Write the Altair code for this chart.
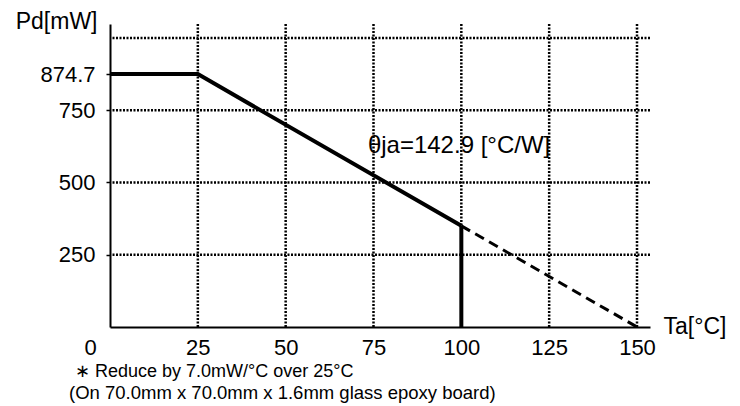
import altair as alt
import pandas as pd

# Data
solid_x = [0, 25, 100]
solid_y = [874.7, 874.7, 349.9]
vert_x = [100, 100]
vert_y = [0, 349.9]
dash_x = [100, 150]
dash_y = [349.9, 0]

x_ticks = [0, 25, 50, 75, 100, 125, 150]
x_grid = [25, 50, 75, 100, 125, 150]
y_ticks = [250, 500, 750, 874.7]
y_grid = [250, 500, 750, 1000]

note_theta = "θja=142.9 [°C/W]"
note_theta_x = [73.4]
note_theta_y = [602]
foot1 = "∗ Reduce by 7.0mW/°C over 25°C"
foot2 = "(On 70.0mm x 70.0mm x 1.6mm glass epoxy board)"

FONT = "Liberation Sans"
W, H = 540, 303
xscale = alt.Scale(domain=[0, 153.7], nice=False, zero=False)
yscale = alt.Scale(domain=[0, 1048], nice=False, zero=False)

xaxis = alt.Axis(
    values=x_ticks, title="Ta[°C]", grid=False, ticks=False,
    domainColor="black", domainWidth=2,
    labelFont=FONT, labelFontSize=22, labelColor="black", labelPadding=10,
    labelOffset={"condition": {"test": "datum.value == 0", "value": -20}, "value": 0},
    labelFlush=False, labelOverlap=False,
    titleFont=FONT, titleFontSize=23, titleFontWeight="normal", titleColor="black",
    titleX=553, titleY=6, titleAlign="left", titleBaseline="alphabetic", titleAngle=0,
)
yaxis = alt.Axis(
    values=y_ticks, title="Pd[mW]", grid=False, ticks=True, tickSize=4,
    tickColor="black", tickWidth=1.5,
    labelExpr="datum.value == 874.7 ? '874.7' : format(datum.value, 'd')",
    domainColor="black", domainWidth=2,
    labelFont=FONT, labelFontSize=22, labelColor="black", labelPadding=11,
    labelFlush=False, labelOverlap=False,
    titleFont=FONT, titleFontSize=23, titleFontWeight="normal", titleColor="black",
    titleX=-13, titleY=4, titleAlign="right", titleBaseline="alphabetic", titleAngle=0,
)

grid_v = alt.Chart(pd.DataFrame({"x": x_grid})).mark_rule(
    color="black", strokeWidth=2.5, strokeDash=[2, 1.5]
).encode(x=alt.X("x:Q", scale=xscale, axis=xaxis))

grid_h = alt.Chart(pd.DataFrame({"y": y_grid})).mark_rule(
    color="black", strokeWidth=2.5, strokeDash=[2, 1.5]
).encode(y=alt.Y("y:Q", scale=yscale, axis=yaxis))

solid = alt.Chart(pd.DataFrame({"x": solid_x, "y": solid_y})).mark_line(
    color="black", strokeWidth=4
).encode(x=alt.X("x:Q", scale=xscale), y=alt.Y("y:Q", scale=yscale))

vert = alt.Chart(pd.DataFrame({"x": vert_x, "y": vert_y})).mark_line(
    color="black", strokeWidth=4
).encode(x=alt.X("x:Q", scale=xscale), y=alt.Y("y:Q", scale=yscale))

dashed = alt.Chart(pd.DataFrame({"x": dash_x, "y": dash_y})).mark_line(
    color="black", strokeWidth=3, strokeDash=[10, 6]
).encode(x=alt.X("x:Q", scale=xscale), y=alt.Y("y:Q", scale=yscale))

theta = alt.Chart(pd.DataFrame({"x": note_theta_x, "y": note_theta_y, "t": [note_theta]})).mark_text(
    font=FONT, fontSize=24, color="black", align="left", baseline="alphabetic"
).encode(x=alt.X("x:Q", scale=xscale), y=alt.Y("y:Q", scale=yscale), text="t:N")

f1 = alt.Chart(pd.DataFrame({"t": [foot1]})).mark_text(
    font=FONT, fontSize=18, color="black", align="left", baseline="alphabetic"
).encode(x=alt.value(-35), y=alt.value(353), text="t:N")

f2 = alt.Chart(pd.DataFrame({"t": [foot2]})).mark_text(
    font=FONT, fontSize=18.5, color="black", align="left", baseline="alphabetic"
).encode(x=alt.value(-41), y=alt.value(375), text="t:N")

chart = alt.layer(grid_v, grid_h, solid, vert, dashed, theta, f1, f2).properties(
    width=W, height=H,
    autosize=alt.AutoSizeParams(type="none"),
    padding={"left": 102, "top": 16, "right": 80, "bottom": 78},
    background="white",
).configure_view(stroke=None)

chart.save("out.html", embed_options={"renderer": "svg", "actions": False})
